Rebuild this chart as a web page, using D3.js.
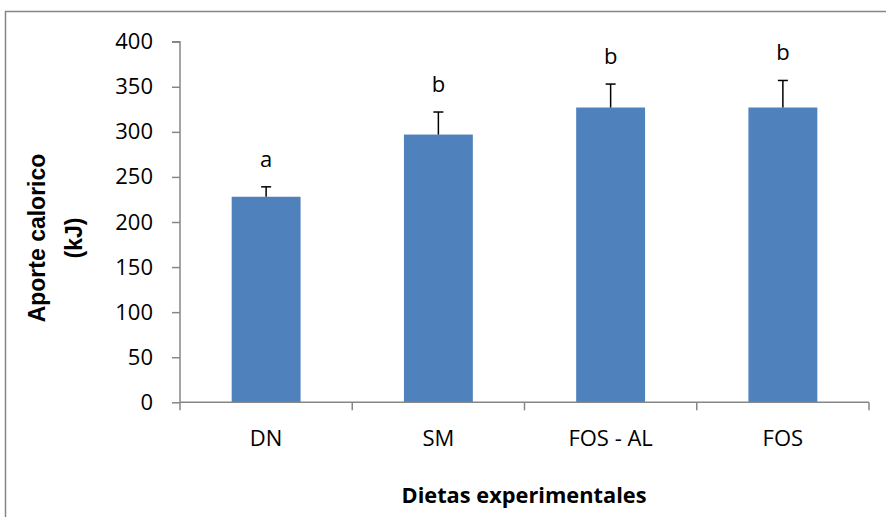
<!DOCTYPE html>
<html>
<head>
<meta charset="utf-8">
<script src="https://cdn.jsdelivr.net/npm/d3@7"></script>
<style>
  html, body { margin: 0; padding: 0; background: #fff; }
  svg { display: block; }
</style>
</head>
<body>
<svg id="chart" width="886" height="517"></svg>
<script>
// ---- data ----
const categories = ["DN", "SM", "FOS - AL", "FOS"];
const values = [228, 297, 327, 327];
const errors = [11, 25, 26, 30];
const letters = ["a", "b", "b", "b"];
const yTicks = [0, 50, 100, 150, 200, 250, 300, 350, 400];
const yTitle = ["Aporte calorico", "(kJ)"];
const xTitle = "Dietas experimentales";

// ---- layout ----
const svg = d3.select("#chart");
const W = 886, H = 517;
const plot = { left: 180, right: 869, top: 41.7, bottom: 402.3 };
const axisColor = "#868686";
const barColor = "#4F81BD";
const tickFont = "'Open Sans', sans-serif";

// outer frame
svg.append("rect")
  .attr("x", 5.5).attr("y", 11.5)
  .attr("width", W + 20).attr("height", H + 20)
  .attr("fill", "none").attr("stroke", axisColor).attr("stroke-width", 1.5);

const x = d3.scaleBand()
  .domain(categories)
  .range([plot.left, plot.right])
  .paddingInner(0.6)
  .paddingOuter(0.3);

const y = d3.scaleLinear().domain([0, 400]).range([plot.bottom, plot.top]);

// bars
svg.append("g").selectAll("rect")
  .data(categories)
  .join("rect")
  .attr("x", d => x(d))
  .attr("width", x.bandwidth())
  .attr("y", (d, i) => y(values[i]))
  .attr("height", (d, i) => y(0) - y(values[i]))
  .attr("fill", barColor);

// error bars (upper only)
const eg = svg.append("g").attr("stroke", "#000").attr("stroke-width", 1.5);
categories.forEach((c, i) => {
  const cx = x(c) + x.bandwidth() / 2;
  eg.append("line")
    .attr("x1", cx).attr("x2", cx)
    .attr("y1", y(values[i])).attr("y2", y(values[i] + errors[i]));
  eg.append("line")
    .attr("x1", cx - 5).attr("x2", cx + 5)
    .attr("y1", y(values[i] + errors[i])).attr("y2", y(values[i] + errors[i]));
});

// significance letters
svg.append("g").selectAll("text")
  .data(categories)
  .join("text")
  .attr("x", d => x(d) + x.bandwidth() / 2)
  .attr("y", (d, i) => y(values[i] + errors[i]) - 20)
  .attr("text-anchor", "middle")
  .attr("font-family", tickFont)
  .attr("font-size", 22)
  .attr("fill", "#000")
  .text((d, i) => letters[i]);

// y axis
const yAxis = d3.axisLeft(y).tickValues(yTicks).tickSize(8).tickPadding(19).tickFormat(d3.format("d"));
const ya = svg.append("g").attr("transform", `translate(${plot.left},0)`).call(yAxis);
ya.select(".domain").attr("stroke", axisColor).attr("stroke-width", 1.5)
  .attr("d", `M-8,${plot.top}H0V${plot.bottom}`);
ya.selectAll(".tick line").attr("stroke", axisColor).attr("stroke-width", 1.5);
ya.selectAll(".tick text").attr("font-family", tickFont).attr("font-size", 22).attr("fill", "#000");

// x axis
const xa = svg.append("g").attr("transform", `translate(0,${plot.bottom})`);
xa.append("line")
  .attr("x1", plot.left).attr("x2", plot.right)
  .attr("y1", 0).attr("y2", 0)
  .attr("stroke", axisColor).attr("stroke-width", 1.5);
const step = x.step();
const boundaries = d3.range(categories.length + 1).map(i => plot.left + i * step);
xa.selectAll("line.tk")
  .data(boundaries)
  .join("line")
  .attr("class", "tk")
  .attr("x1", d => d).attr("x2", d => d)
  .attr("y1", 0).attr("y2", 8)
  .attr("stroke", axisColor).attr("stroke-width", 1.5);
xa.selectAll("text")
  .data(categories)
  .join("text")
  .attr("x", d => x(d) + x.bandwidth() / 2)
  .attr("y", 35)
  .attr("text-anchor", "middle")
  .attr("dominant-baseline", "central")
  .attr("font-family", tickFont)
  .attr("font-size", 22)
  .attr("fill", "#000")
  .text(d => d);

// y axis title (two lines, rotated)
const yt = svg.append("text")
  .attr("transform", "translate(0,238) rotate(-90)")
  .attr("text-anchor", "middle")
  .attr("font-family", "'Liberation Sans', Arial, sans-serif")
  .attr("font-weight", "bold")
  .attr("font-size", 23)
  .attr("fill", "#000");
yt.selectAll("tspan")
  .data(yTitle)
  .join("tspan")
  .attr("x", 0)
  .attr("y", (d, i) => 45 + i * 37)
  .text(d => d);

// x axis title
svg.append("text")
  .attr("x", 524).attr("y", 503)
  .attr("text-anchor", "middle")
  .attr("font-family", "'Open Sans', sans-serif")
  .attr("font-weight", "bold")
  .attr("font-size", 22)
  .attr("textLength", 245)
  .attr("lengthAdjust", "spacingAndGlyphs")
  .attr("fill", "#000")
  .text(xTitle);
</script>
</body>
</html>
